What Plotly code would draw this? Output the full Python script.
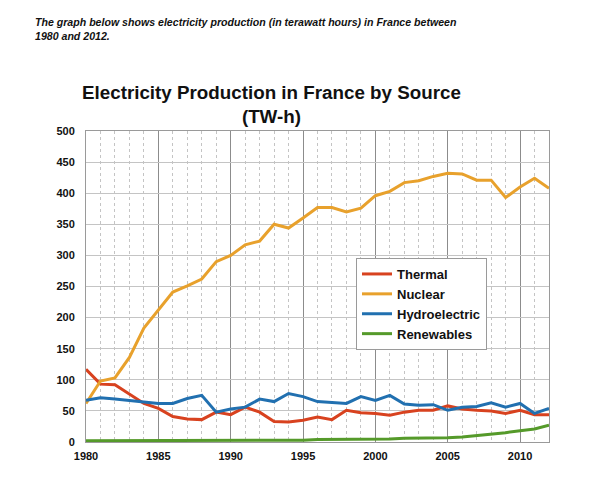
import plotly.graph_objects as go

years = list(range(1980, 2013))
thermal = [117, 93, 92, 77, 62, 54, 41, 37, 36, 48, 44, 56, 48, 33, 32, 35, 40, 36, 51, 47, 46, 43,
           48, 51, 51, 58, 53, 51, 50, 46, 51, 44, 44]
nuclear = [62, 98, 103, 136, 183, 212, 241, 251, 262, 290, 300, 317, 323, 350, 344, 360, 377, 377,
           370, 376, 396, 403, 417, 420, 427, 432, 431, 421, 421, 393, 410, 424, 408]
hydro = [67, 71, 69, 67, 65, 62, 62, 70, 75, 48, 53, 56, 69, 65, 78, 73, 65, 63, 62, 73, 67, 75,
         61, 59, 60, 51, 56, 57, 63, 56, 62, 46, 54]
renewables = [2, 2, 2, 2, 2, 2, 2, 2, 2, 3, 3, 3, 3, 3, 3, 3, 4, 4, 4, 5, 5, 5, 6, 6, 6, 7, 8, 10,
              12, 15, 18, 21, 27]

series_names = ["Thermal", "Nuclear", "Hydroelectric", "Renewables"]
series_values = [thermal, nuclear, hydro, renewables]
series_colors = ["#d8421f", "#e8a12c", "#2170b0", "#559a2a"]

x_ticks = [1980, 1985, 1990, 1995, 2000, 2005, 2010]
y_ticks = [0, 50, 100, 150, 200, 250, 300, 350, 400, 450, 500]

fig = go.Figure()
for name, vals, col in zip(series_names, series_values, series_colors):
    fig.add_trace(go.Scatter(x=years, y=vals, name=name, mode="lines",
                             line=dict(color=col, width=3)))

# page has an 8px body margin; compensate so plot lands at the reference pixels
OFF = 8
W, H = 600 - OFF, 483 - OFF
L, R, T, B = 86 - OFF, 51, 131 - OFF, 41
pw, ph = W - L - R, H - T - B

def px(x):
    return (x - OFF - L) / pw

def py(y):
    return (H - B - (y - OFF)) / ph

fig.update_layout(
    width=W, height=H,
    margin=dict(l=L, r=R, t=T, b=B),
    paper_bgcolor="white", plot_bgcolor="white",
    font=dict(family="Liberation Sans, Arial, sans-serif", color="#111111"),
    showlegend=True,
    legend=dict(x=px(356), y=py(258), xanchor="left", yanchor="top",
                bgcolor="white", bordercolor="#9a9a9a", borderwidth=1,
                font=dict(size=13, weight="bold", color="#111111"),
                itemwidth=30, tracegroupgap=0),
    annotations=[
        dict(text="<i><b>The graph below shows electricity production (in terawatt hours) in France between<br>1980 and 2012.</b></i>",
             xref="paper", yref="paper", x=px(33), y=py(14), xanchor="left", yanchor="top",
             align="left", showarrow=False, font=dict(size=10.6, color="#111111")),
        dict(text="<b>Electricity Production in France by Source<br>(TW-h)</b>",
             xref="paper", yref="paper", x=px(271), y=py(80), xanchor="center", yanchor="top",
             align="center", showarrow=False, font=dict(size=18.8, color="#111111")),
    ],
)

fig.update_xaxes(
    range=[1980, 2012], tickvals=x_ticks, ticktext=[str(v) for v in x_ticks],
    showgrid=True, gridcolor="#8c8c8c", gridwidth=1,
    minor=dict(dtick=1, tick0=1980, showgrid=True, gridcolor="#c4c4c4", griddash="3px,3px", gridwidth=1),
    showline=True, linecolor="#9a9a9a", linewidth=1, mirror=True,
    zeroline=False, ticks="", tickfont=dict(size=11, weight="bold", color="#111111"),
    ticklabelstandoff=4,
)
fig.update_yaxes(
    range=[0, 500], tickvals=y_ticks, ticktext=[str(v) for v in y_ticks],
    showgrid=True, gridcolor="#c4c4c4", gridwidth=1,
    showline=True, linecolor="#9a9a9a", linewidth=1, mirror=True,
    zeroline=False, ticks="", tickfont=dict(size=11, weight="bold", color="#111111"),
    ticklabelstandoff=8,
)

fig.write_html("out.html")
